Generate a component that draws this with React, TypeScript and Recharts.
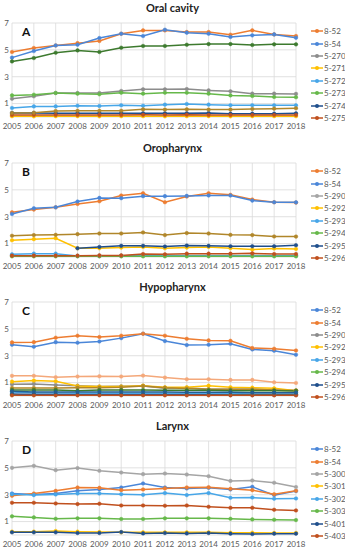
import { LineChart, Line, XAxis, YAxis, CartesianGrid, Legend } from 'recharts';

const years = ['2005', '2006', '2007', '2008', '2009', '2010', '2011', '2012', '2013', '2014', '2015', '2016', '2017', '2018'];
const yTicks = [0, 1, 2, 3, 4, 5, 6, 7];

// A - Oral cavity
const oral852 = [4.84, 5.14, 5.33, 5.5, 5.66, 6.2, 6.45, 6.45, 6.33, 6.33, 6.13, 6.45, 6.15, 6.03];
const oral854 = [4.42, 4.91, 5.33, 5.38, 5.88, 6.2, 6.03, 6.5, 6.28, 6.2, 5.96, 6.08, 6.15, 5.9];
const oral270 = [1.36, 1.54, 1.79, 1.79, 1.79, 1.94, 2.06, 2.06, 2.08, 1.98, 1.91, 1.74, 1.74, 1.72];
const oral271 = [0.06, 0.05, 0.06, 0.06, 0.05, 0.06, 0.06, 0.05, 0.06, 0.06, 0.05, 0.06, 0.06, 0.06];
const oral272 = [0.67, 0.79, 0.79, 0.84, 0.82, 0.87, 0.84, 0.92, 0.97, 0.92, 0.87, 0.87, 0.87, 0.87];
const oral273 = [1.61, 1.66, 1.79, 1.74, 1.69, 1.81, 1.74, 1.81, 1.81, 1.74, 1.61, 1.56, 1.49, 1.47];
const oral274 = [0.3, 0.3, 0.28, 0.28, 0.28, 0.28, 0.28, 0.28, 0.28, 0.3, 0.25, 0.25, 0.25, 0.27];
const oral275 = [0.15, 0.15, 0.15, 0.15, 0.15, 0.15, 0.16, 0.15, 0.17, 0.15, 0.15, 0.15, 0.15, 0.15];
const oralMustard = [0.3, 0.32, 0.45, 0.47, 0.47, 0.47, 0.57, 0.55, 0.57, 0.55, 0.55, 0.6, 0.62, 0.65];
const oralDarkGreen = [4.14, 4.39, 4.79, 4.96, 4.84, 5.16, 5.29, 5.29, 5.38, 5.43, 5.43, 5.36, 5.41, 5.41];

// B - Oropharynx
const oro852 = [3.33, 3.53, 3.7, 3.95, 4.15, 4.58, 4.75, 4.08, 4.5, 4.75, 4.63, 4.28, 4.08, 4.05];
const oro854 = [3.2, 3.63, 3.7, 4.13, 4.4, 4.38, 4.53, 4.53, 4.55, 4.58, 4.58, 4.2, 4.08, 4.07];
const oro290 = [0.1, 0.1, 0.1, 0.08, 0.08, 0.1, 0.1, 0.1, 0.12, 0.12, 0.12, 0.12, 0.1, 0.1];
const oro292 = [1.25, 1.33, 1.4, 0.65, 0.65, 0.7, 0.75, 0.65, 0.7, 0.75, 0.65, 0.55, 0.63, 0.6];
const oro293 = [0.2, 0.25, 0.25, 0.08, 0.08, 0.08, 0.1, 0.1, 0.1, 0.1, 0.1, 0.1, 0.1, 0.1];
const oro294 = [0.05, 0.05, 0.05, 0.05, 0.05, 0.05, 0.05, 0.05, 0.05, 0.05, 0.05, 0.05, 0.05, 0.05];
const oro295 = [null, null, null, 0.65, 0.75, 0.83, 0.83, 0.78, 0.85, 0.83, 0.8, 0.8, 0.8, 0.88];
const oro296 = [0.1, 0.1, 0.1, 0.1, 0.12, 0.12, 0.22, 0.2, 0.25, 0.25, 0.25, 0.27, 0.22, 0.22];
const oroMustard = [1.58, 1.63, 1.65, 1.7, 1.75, 1.75, 1.83, 1.63, 1.78, 1.75, 1.65, 1.63, 1.53, 1.52];

// C - Hypopharynx
const hypo852 = [3.82, 3.67, 4.01, 3.97, 4.06, 4.31, 4.64, 4.09, 3.79, 3.82, 3.89, 3.47, 3.37, 3.07];
const hypo854 = [3.99, 4.01, 4.34, 4.49, 4.39, 4.49, 4.64, 4.49, 4.26, 4.14, 4.11, 3.57, 3.52, 3.39];
const hypo290 = [0.87, 0.9, 0.82, 0.77, 0.7, 0.72, 0.75, 0.57, 0.62, 0.5, 0.5, 0.5, 0.45, 0.42];
const hypo292 = [1.07, 1.15, 1.1, 0.75, 0.7, 0.7, 0.77, 0.65, 0.65, 0.77, 0.65, 0.62, 0.57, 0.4];
const hypo293 = [0.3, 0.22, 0.22, 0.2, 0.2, 0.2, 0.2, 0.2, 0.18, 0.18, 0.18, 0.15, 0.15, 0.15];
const hypo294 = [0.1, 0.1, 0.1, 0.1, 0.1, 0.1, 0.1, 0.1, 0.1, 0.1, 0.1, 0.1, 0.1, 0.1];
const hypo295 = [0.15, 0.12, 0.12, 0.1, 0.1, 0.1, 0.1, 0.1, 0.1, 0.1, 0.08, 0.08, 0.08, 0.08];
const hypo296 = [0.05, 0.05, 0.05, 0.05, 0.05, 0.05, 0.05, 0.05, 0.05, 0.05, 0.05, 0.05, 0.05, 0.05];
const hypoLightOrange = [1.5, 1.5, 1.4, 1.45, 1.47, 1.45, 1.52, 1.37, 1.25, 1.25, 1.2, 1.2, 1.02, 0.97];
const hypoMustard = [0.6, 0.6, 0.6, 0.62, 0.62, 0.65, 0.75, 0.62, 0.55, 0.5, 0.5, 0.5, 0.45, 0.4];
const hypoDarkGreen = [0.45, 0.45, 0.45, 0.4, 0.45, 0.45, 0.45, 0.42, 0.42, 0.42, 0.4, 0.4, 0.4, 0.38];
const hypoDarkBlue = [0.35, 0.3, 0.3, 0.3, 0.3, 0.3, 0.3, 0.3, 0.28, 0.28, 0.28, 0.25, 0.25, 0.25];

// D - Larynx
const lar852 = [3.09, 3.02, 3.09, 3.29, 3.39, 3.54, 3.84, 3.54, 3.47, 3.51, 3.39, 3.59, 2.97, 3.27];
const lar854 = [2.92, 3.09, 3.29, 3.54, 3.51, 3.34, 3.39, 3.47, 3.54, 3.56, 3.44, 3.34, 3.04, 3.29];
const lar300 = [5.0, 5.15, 4.83, 4.98, 4.78, 4.65, 4.53, 4.58, 4.5, 4.38, 4.03, 4.06, 3.89, 3.57];
const lar301 = [0.25, 0.25, 0.3, 0.25, 0.22, 0.2, 0.2, 0.2, 0.2, 0.2, 0.17, 0.17, 0.15, 0.15];
const lar302 = [3.04, 2.97, 3.02, 3.09, 3.09, 3.04, 2.99, 3.12, 2.97, 3.12, 2.77, 2.79, 2.7, 2.72];
const lar303 = [1.39, 1.31, 1.21, 1.24, 1.24, 1.19, 1.19, 1.24, 1.24, 1.24, 1.21, 1.16, 1.14, 1.11];
const lar401 = [0.2, 0.2, 0.2, 0.15, 0.15, 0.22, 0.12, 0.15, 0.12, 0.15, 0.1, 0.07, 0.1, 0.1];
const lar403 = [2.4, 2.4, 2.35, 2.3, 2.33, 2.2, 2.2, 2.18, 2.2, 2.1, 2.03, 2.03, 1.88, 1.83];

const ORANGE = '#ED7D31';
const BLUE = '#4A86D8';
const GRAY = '#A5A5A5';
const YELLOW = '#FFC000';
const LIGHTBLUE = '#47A6E8';
const GREEN = '#66B84A';
const NAVY = '#1F4E8C';
const RUST = '#C0501E';
const MUSTARD = '#B0862A';
const DARKGREEN = '#3D7A2E';
const LIGHTORANGE = '#F4A87A';
const DARKBLUE = '#255E91';

type Series = { key: string; name: string; color: string; values: (number | null)[]; legend: boolean };

const panels: { letter: string; title: string; series: Series[] }[] = [
  {
    letter: 'A',
    title: 'Oral cavity',
    series: [
      { key: 's1', name: '8-52', color: ORANGE, values: oral852, legend: true },
      { key: 's2', name: '8-54', color: BLUE, values: oral854, legend: true },
      { key: 's3', name: '5-270', color: '#8C8C8C', values: oral270, legend: true },
      { key: 's4', name: '5-271', color: YELLOW, values: oral271, legend: true },
      { key: 's5', name: '5-272', color: LIGHTBLUE, values: oral272, legend: true },
      { key: 's6', name: '5-273', color: GREEN, values: oral273, legend: true },
      { key: 's7', name: '5-274', color: NAVY, values: oral274, legend: true },
      { key: 's8', name: '5-275', color: RUST, values: oral275, legend: true },
      { key: 's9', name: 'x1', color: MUSTARD, values: oralMustard, legend: false },
      { key: 's10', name: 'x2', color: DARKGREEN, values: oralDarkGreen, legend: false },
    ],
  },
  {
    letter: 'B',
    title: 'Oropharynx',
    series: [
      { key: 's1', name: '8-52', color: ORANGE, values: oro852, legend: true },
      { key: 's2', name: '8-54', color: BLUE, values: oro854, legend: true },
      { key: 's3', name: '5-290', color: GRAY, values: oro290, legend: true },
      { key: 's4', name: '5-292', color: YELLOW, values: oro292, legend: true },
      { key: 's5', name: '5-293', color: LIGHTBLUE, values: oro293, legend: true },
      { key: 's6', name: '5-294', color: GREEN, values: oro294, legend: true },
      { key: 's7', name: '5-295', color: NAVY, values: oro295, legend: true },
      { key: 's8', name: '5-296', color: RUST, values: oro296, legend: true },
      { key: 's9', name: 'x1', color: MUSTARD, values: oroMustard, legend: false },
    ],
  },
  {
    letter: 'C',
    title: 'Hypopharynx',
    series: [
      { key: 's1', name: '8-52', color: BLUE, values: hypo852, legend: true },
      { key: 's2', name: '8-54', color: ORANGE, values: hypo854, legend: true },
      { key: 's3', name: '5-290', color: '#8C8C8C', values: hypo290, legend: true },
      { key: 's4', name: '5-292', color: YELLOW, values: hypo292, legend: true },
      { key: 's5', name: '5-293', color: LIGHTBLUE, values: hypo293, legend: true },
      { key: 's6', name: '5-294', color: GREEN, values: hypo294, legend: true },
      { key: 's7', name: '5-295', color: NAVY, values: hypo295, legend: true },
      { key: 's8', name: '5-296', color: RUST, values: hypo296, legend: true },
      { key: 's9', name: 'x1', color: LIGHTORANGE, values: hypoLightOrange, legend: false },
      { key: 's10', name: 'x2', color: MUSTARD, values: hypoMustard, legend: false },
      { key: 's11', name: 'x3', color: DARKGREEN, values: hypoDarkGreen, legend: false },
      { key: 's12', name: 'x4', color: DARKBLUE, values: hypoDarkBlue, legend: false },
    ],
  },
  {
    letter: 'D',
    title: 'Larynx',
    series: [
      { key: 's1', name: '8-52', color: BLUE, values: lar852, legend: true },
      { key: 's2', name: '8-54', color: ORANGE, values: lar854, legend: true },
      { key: 's3', name: '5-300', color: GRAY, values: lar300, legend: true },
      { key: 's4', name: '5-301', color: YELLOW, values: lar301, legend: true },
      { key: 's5', name: '5-302', color: LIGHTBLUE, values: lar302, legend: true },
      { key: 's6', name: '5-303', color: GREEN, values: lar303, legend: true },
      { key: 's7', name: '5-401', color: NAVY, values: lar401, legend: true },
      { key: 's8', name: '5-403', color: RUST, values: lar403, legend: true },
    ],
  },
];

const FONT = 'Lato, "Liberation Sans", Arial, sans-serif';
const TEXT = '#595959';

// legend keeps the series order (Recharts would sort it by name)
function makeLegend(series: Series[]) {
  return function LegendList() {
    const items = series.filter((s) => s.legend);
    return (
      <div style={{ display: 'flex', flexDirection: 'column' }}>
        {items.map((s) => (
          <div key={s.key} style={{ height: 12.4, display: 'flex', alignItems: 'center', fontSize: 8, color: TEXT, fontFamily: FONT }}>
            <svg width={12} height={6} style={{ flex: 'none' }}>
              <line x1={0} y1={3} x2={12} y2={3} stroke={s.color} strokeWidth={1.5} />
              <circle cx={6} cy={3} r={2} fill={s.color} />
            </svg>
            <span style={{ marginLeft: 1, whiteSpace: 'nowrap' }}>{s.name}</span>
          </div>
        ))}
      </div>
    );
  };
}

function Panel({ letter, title, series }: { letter: string; title: string; series: Series[] }) {
  const data = years.map((year, i) => {
    const row: Record<string, any> = { year };
    series.forEach((s) => {
      row[s.key] = s.values[i];
    });
    return row;
  });

  return (
    <div style={{ position: 'relative', width: 345, height: 139 }}>
      <LineChart width={345} height={139} data={data} margin={{ top: 23, right: 49, bottom: 6, left: 0 }}>
        <CartesianGrid stroke="#D9D9D9" strokeWidth={0.8} />
        <XAxis
          dataKey="year"
          interval={0}
          axisLine={false}
          tickLine={false}
          tickSize={0}
          tickMargin={6}
          height={16}
          tick={{ fontSize: 8, fill: TEXT, fontFamily: FONT }}
        />
        <YAxis
          domain={[0, 7]}
          ticks={yTicks}
          width={12}
          axisLine={false}
          tickLine={false}
          tickSize={0}
          tickMargin={3}
          tick={{ fontSize: 8, fill: TEXT, fontFamily: FONT }}
        />
        <Legend
          layout="horizontal"
          verticalAlign="middle"
          align="center"
          content={makeLegend(series)}
          wrapperStyle={{ left: 311, top: 25, width: 34, height: 100 }}
        />
        {series.map((s) => (
          <Line
            key={s.key}
            dataKey={s.key}
            name={s.name}
            stroke={s.color}
            strokeWidth={1.5}
            dot={{ r: 1.8, fill: s.color, stroke: s.color, strokeWidth: 0.5 }}
            legendType={s.legend ? 'line' : 'none'}
            isAnimationActive={false}
          />
        ))}
      </LineChart>
      <div style={{ position: 'absolute', left: 0, width: 345, top: 1, textAlign: 'center', fontSize: 11, fontWeight: 700, color: '#222', fontFamily: FONT }}>
        {title}
      </div>
      <div style={{ position: 'absolute', left: 22, top: 24, fontSize: 12, fontWeight: 700, color: '#111', fontFamily: FONT }}>
        {letter}
      </div>
    </div>
  );
}

export default function App() {
  return (
    <div style={{ position: 'absolute', left: 0, top: 0, width: 345, height: 550, background: '#fff' }}>
      {panels.map((p, i) => (
        <div key={p.letter} style={{ position: 'absolute', left: 0, top: [0, 140, 279, 418][i] }}>
          <Panel letter={p.letter} title={p.title} series={p.series} />
        </div>
      ))}
    </div>
  );
}
